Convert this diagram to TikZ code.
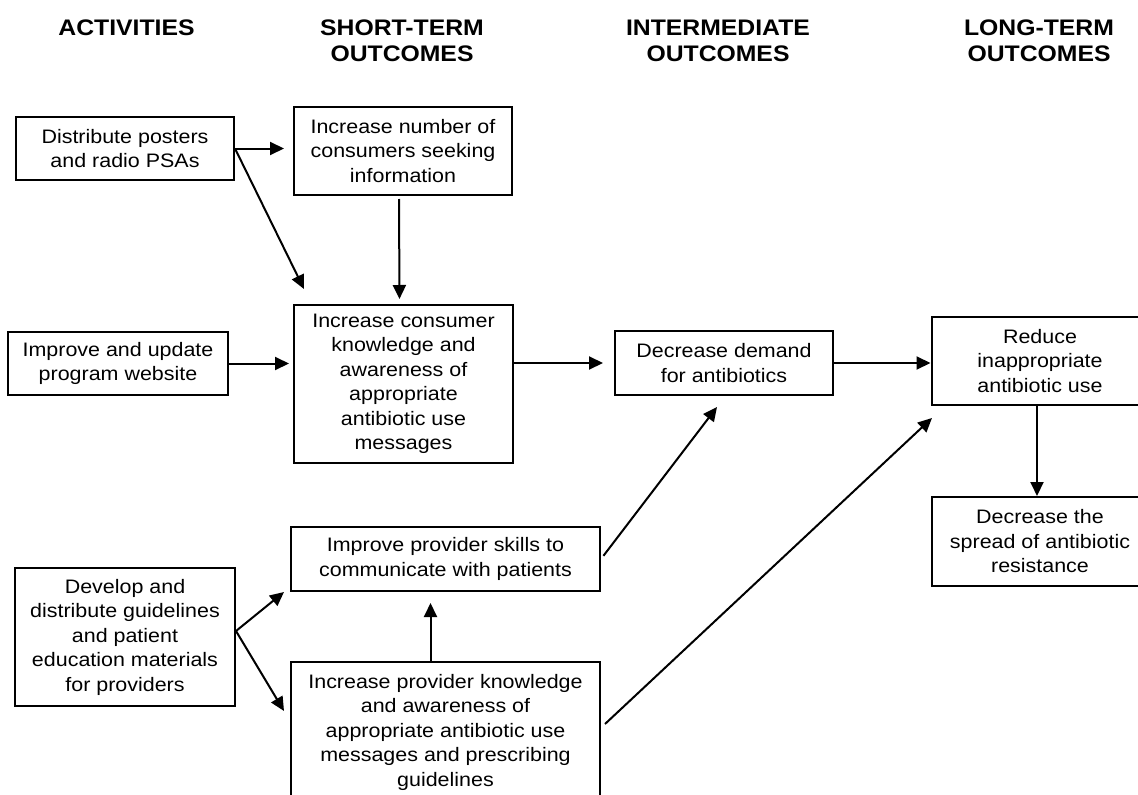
\documentclass[tikz,border=0pt]{standalone}
\usepackage{fontspec}
\setmainfont{Liberation Sans}[FakeStretch=1.1]
\usetikzlibrary{arrows.meta}
\tikzset{
  box/.style={draw, line width=2pt, inner sep=0pt, align=center,
    font=\fontsize{19.5pt}{24.5pt}\selectfont},
  hdr/.style={inner sep=0pt, align=center, anchor=north,
    font=\fontsize{22.5pt}{25.5pt}\selectfont\bfseries},
  arr/.style={line width=2pt, -{Triangle[length=14pt,width=13pt]}}
}
\begin{document}
\begin{tikzpicture}[x=1pt,y=-1pt]
\clip (0,0) rectangle (1138,795);
\fill[white] (0,0) rectangle (1138,795);
% headers
\node[hdr] (h1) at (126.5,19.5) {ACTIVITIES};
\node[hdr] (h2) at (402,20) {SHORT-TERM\\OUTCOMES};
\node[hdr] (h3) at (718,20) {INTERMEDIATE\\OUTCOMES};
\node[hdr] (h4) at (1039,20) {LONG-TERM\\OUTCOMES};
% boxes
\node[box, minimum width=218pt, minimum height=63pt] (posters) at (125,148.5) {Distribute posters\\and radio PSAs};
\node[box, minimum width=218pt, minimum height=88pt] (number) at (403,151) {Increase number of\\consumers seeking\\information};
\node[box, minimum width=220pt, minimum height=63pt] (website) at (118,363.5) {Improve and update\\program website};
\node[box, minimum width=219pt, minimum height=158pt] (consumer) at (403.5,384) {Increase consumer\\knowledge and\\awareness of\\appropriate\\antibiotic use\\messages};
\node[box, minimum width=218pt, minimum height=64pt] (demand) at (724,363) {Decrease demand\\for antibiotics};
\node[box, minimum width=217pt, minimum height=88pt] (reduce) at (1040,361) {Reduce\\inappropriate\\antibiotic use};
\node[box, minimum width=217pt, minimum height=89pt] (spread) at (1040,541.5) {Decrease the\\spread of antibiotic\\resistance};
\node[box, minimum width=309pt, minimum height=64pt] (skills) at (445.5,559) {Improve provider skills to\\communicate with patients};
\node[box, minimum width=220pt, minimum height=138pt] (develop) at (125,637) {Develop and\\distribute guidelines\\and patient\\education materials\\for providers};
\node[box, minimum width=309pt, minimum height=140pt] (knowledge) at (445.5,732) {Increase provider knowledge\\and awareness of\\appropriate antibiotic use\\messages and prescribing\\guidelines};
% connectors
\draw[arr, shorten >=9pt] (posters.east) -- (posters.east -| number.west);
\draw[arr] (posters.east) -- ([shift={(11pt,15pt)}]consumer.north west);
\draw[arr, shorten <=3pt, shorten >=5pt] ([xshift=-4pt]number.south) -- ([xshift=-4pt]consumer.north);
\draw[arr, shorten >=4pt] (website.east) -- (website.east -| consumer.west);
\draw[arr, shorten >=11pt] (demand.west -| consumer.east) -- (demand.west);
\draw[arr] (demand.east) -- (demand.east -| reduce.west);
\draw[arr] ([xshift=-3pt]reduce.south) -- ([xshift=-3pt]spread.north);
\draw[arr] ([yshift=6pt]develop.east) -- ([shift={(-6pt,0pt)}]skills.south west);
\draw[arr] ([yshift=6pt]develop.east) -- ([shift={(-6pt,-50pt)}]knowledge.north west);
\draw[arr, shorten >=11pt] ([xshift=-15pt]knowledge.north) -- ([xshift=-15pt]skills.south);
\draw[arr, shorten <=4pt] (skills.east) -- ([shift={(-7pt,-11pt)}]demand.south);
\draw[arr] ([shift={(4pt,8pt)}]knowledge.east) -- ([shift={(1.5pt,-12pt)}]reduce.south west);
\end{tikzpicture}
\end{document}
